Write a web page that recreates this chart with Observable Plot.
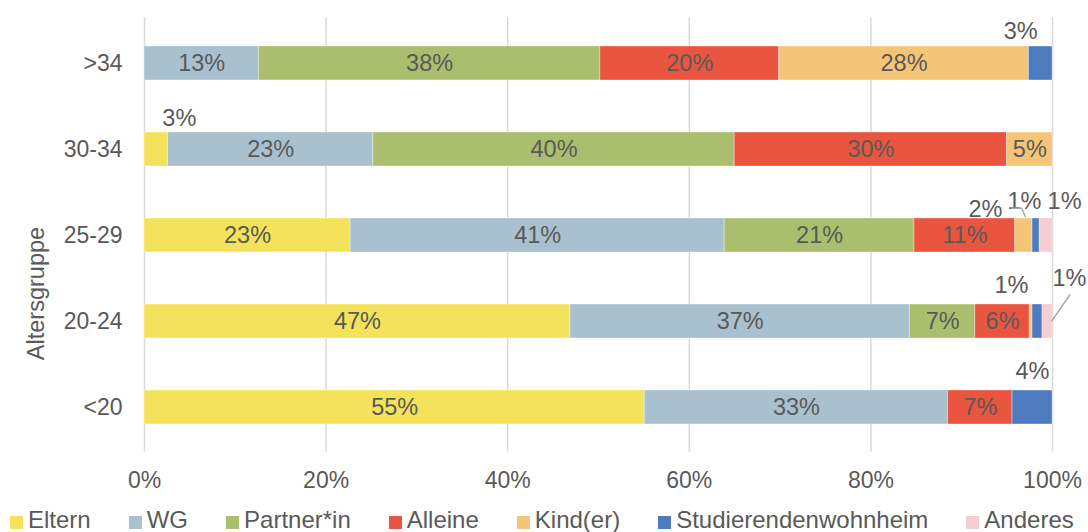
<!DOCTYPE html>
<html><head><meta charset="utf-8">
<script src="https://cdn.jsdelivr.net/npm/d3@7"></script>
<script src="https://cdn.jsdelivr.net/npm/@observablehq/plot@0.6"></script>
<style>
html,body{margin:0;padding:0;background:#fff;}
#chart{width:1088px;height:532px;overflow:hidden;}
.legend{display:flex;align-items:flex-end;height:32px;padding-left:10px;font-family:"Liberation Sans",Arial,sans-serif;font-size:24px;line-height:1;color:#595959;white-space:nowrap;}
.legend .item{display:flex;align-items:center;margin-right:38px;}
.legend .sw{width:13px;height:13px;margin-right:5px;margin-top:4px;}
</style></head>
<body><div id="chart"></div>
<script>
// ---- data ----
const groups = [">34", "30-34", "25-29", "20-24", "<20"];
const categories = ["Eltern", "WG", "Partner*in", "Alleine", "Kind(er)", "Studierendenwohnheim", "Anderes"];
const colors = ["#F4E25B", "#A9C1CE", "#A9BF6D", "#E9553F", "#F4C577", "#4E7BC0", "#F5CDD3"];
const eltern   = [0,    2.6,  22.7, 46.9, 55.1];
const wg       = [12.6, 22.6, 41.2, 37.4, 33.4];
const partner  = [37.6, 39.8, 20.9, 7.2,  0];
const alleine  = [19.7, 30.0, 11.1, 6.0,  7.1];
const kind     = [27.5, 5.0,  1.9,  0.3,  0];
const wohnheim = [2.6,  0,    0.8,  1.1,  4.4];
const anderes  = [0,    0,    1.4,  1.1,  0];
const tickValues = [0, 20, 40, 60, 80, 100];
const tickLabels = ["0%", "20%", "40%", "60%", "80%", "100%"];

const series = [eltern, wg, partner, alleine, kind, wohnheim, anderes];
const data = [];
groups.forEach((g, i) => categories.forEach((c, j) => {
  if (series[j][i] > 0) data.push({group: g, category: c, value: series[j][i]});
}));

// labels placed outside the bars (offsets from the segment centre)
const outsideLabels = [
  {group: ">34",   category: "Studierendenwohnheim", dx: -20,   dy: -31.6},
  {group: "30-34", category: "Eltern",               dx: 23,    dy: -30.6},
  {group: "25-29", category: "Kind(er)",             dx: -38.4, dy: -26.5},
  {group: "25-29", category: "Studierendenwohnheim", dx: -11.7, dy: -34.5},
  {group: "25-29", category: "Anderes",              dx: 18.4,  dy: -34.5},
  {group: "20-24", category: "Studierendenwohnheim", dx: -26,   dy: -36.5},
  {group: "20-24", category: "Anderes",              dx: 22,    dy: -43.5},
  {group: "<20",   category: "Studierendenwohnheim", dx: 0,     dy: -36.5}
];
const leaderLines = [
  {group: "25-29", category: "Studierendenwohnheim", points: [[-24.7, -26.8], [-14, -26.8], [-10, -17.8]]},
  {group: "20-24", category: "Anderes",              points: [[23, -26.5], [4.7, 0.2]]}
];

const label = d => Math.round(d.value) + "%";
const isOutside = d => outsideLabels.some(o => o.group === d.group && o.category === d.category);
const stackOpts = {x: "value", y: "group", z: "category", order: categories};
const font = '"Liberation Sans", Arial, sans-serif';
const textColor = "#595959";

function leaders(index, scales) {
  const g = d3.create("svg:g");
  const bw = scales.y.bandwidth ? scales.y.bandwidth() : 0;
  leaderLines.forEach(L => {
    const gi = groups.indexOf(L.group), ci = categories.indexOf(L.category);
    let start = 0;
    for (let j = 0; j < ci; j++) start += series[j][gi];
    const cx = scales.x(start + series[ci][gi] / 2);
    const cy = scales.y(L.group) + bw / 2;
    g.append("polyline")
      .attr("points", L.points.map(([dx, dy]) => `${cx + dx},${cy + dy}`).join(" "))
      .attr("fill", "none").attr("stroke", "#a6a6a6").attr("stroke-width", 1.5);
  });
  return g.node();
}

const marks = [
  Plot.gridX({ticks: tickValues, stroke: "#d9d9d9", strokeOpacity: 1, strokeWidth: 1.5}),
  Plot.barX(data, Plot.stackX({...stackOpts, fill: "category", stroke: "#ffffff", strokeOpacity: 0.35, strokeWidth: 1})),
  Plot.text(data, Plot.stackX({...stackOpts, text: d => (!isOutside(d) && d.value >= 5) ? label(d) : null, fill: textColor, fontSize: 23.5})),
  ...outsideLabels.map(o => Plot.text(data, Plot.stackX({...stackOpts,
      text: d => (d.group === o.group && d.category === o.category) ? label(d) : null,
      dx: o.dx, dy: o.dy, fill: textColor, fontSize: 23.5}))),
  leaders,
  Plot.axisX({ticks: tickValues, tickFormat: d => tickLabels[tickValues.indexOf(d)], tickSize: 0, tickPadding: 20, label: null, fontSize: 23}),
  Plot.axisY({tickSize: 0, tickPadding: 22, label: null, fontSize: 23}),
  Plot.text(["Altersgruppe"], {text: d => d, frameAnchor: "left", textAnchor: "middle", rotate: -90, dx: -108.5, dy: 58.5, fill: textColor, fontSize: 23.5})
];

const plot = Plot.plot({
  width: 1088, height: 500,
  marginLeft: 144, marginRight: 36, marginTop: 17.5, marginBottom: 48.5,
  style: {fontFamily: font, fontSize: "23px", color: textColor, background: "#fff", overflow: "visible"},
  x: {domain: [0, 100]},
  y: {domain: groups, paddingInner: 0.61, paddingOuter: 0.3},
  color: {domain: categories, range: colors},
  marks
});

const chart = document.getElementById("chart");
chart.appendChild(plot);
const legend = document.createElement("div");
legend.className = "legend";
categories.forEach((c, i) => {
  const item = document.createElement("div");
  item.className = "item";
  const sw = document.createElement("span");
  sw.className = "sw";
  sw.style.background = colors[i];
  const t = document.createElement("span");
  t.textContent = c;
  item.appendChild(sw); item.appendChild(t);
  legend.appendChild(item);
});
chart.appendChild(legend);
</script>
</body></html>
